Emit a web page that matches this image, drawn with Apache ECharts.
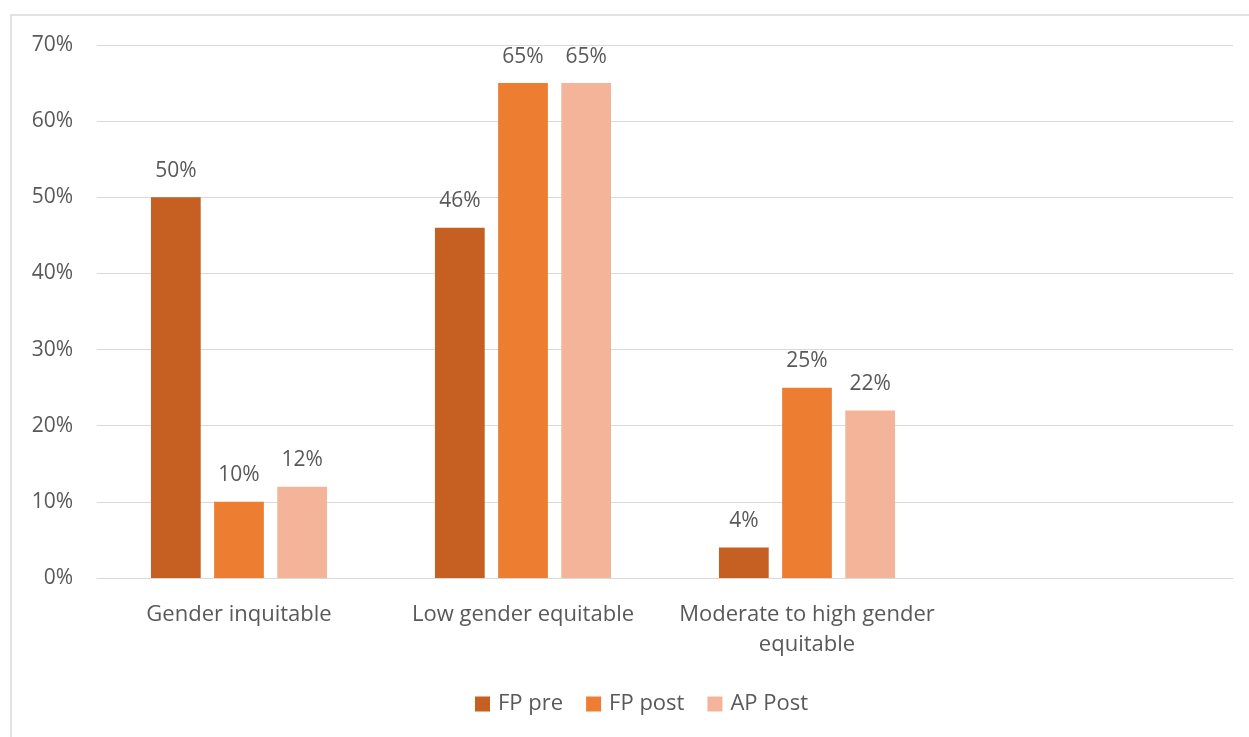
<!DOCTYPE html>
<html>
<head>
<meta charset="utf-8">
<title>Gender equity categories</title>
<script src="https://cdn.jsdelivr.net/npm/echarts@6/dist/echarts.min.js"></script>
<style>
  html, body { margin: 0; padding: 0; background: #ffffff; }
  #chart { width: 1249px; height: 737px; }
</style>
</head>
<body>
<div id="chart"></div>
<script>
// Categories (the last slot is left empty on the axis)
const categories = ['Gender inquitable', 'Low gender equitable', 'Moderate to high gender\nequitable', ''];
const seriesNames = ['FP pre', 'FP post', 'AP Post'];
// Percent values per group
const fpPre = [50, 46, 4, null];
const fpPost = [10, 65, 25, null];
const apPost = [12, 65, 22, null];
const yTicks = [0, 10, 20, 30, 40, 50, 60, 70];

const colors = ['#C55F22', '#ED7D31', '#F4B49A'];
const textColor = '#595959';
const fontFamily = '"Open Sans", "Noto Sans", sans-serif';
const fontSize = 22;

const chart = echarts.init(document.getElementById('chart'), null, { renderer: 'canvas' });

function barSeries(name, data, color) {
  return {
    name: name,
    type: 'bar',
    data: data,
    barGap: '27%',
    barCategoryGap: '38%',
    itemStyle: { color: color },
    label: {
      show: true,
      position: 'top',
      distance: 16,
      color: textColor,
      fontFamily: fontFamily,
      fontSize: fontSize - 1,
      formatter: p => (p.value == null ? '' : p.value + '%')
    }
  };
}

chart.setOption({
  animation: false,
  backgroundColor: '#ffffff',
  color: colors,
  textStyle: { fontFamily: fontFamily },
  graphic: [{
    type: 'rect',
    shape: { x: 11, y: 15, width: 1400, height: 900 },
    style: { fill: 'none', stroke: '#d9d9d9', lineWidth: 1.5 },
    silent: true
  }],
  grid: { left: 97, right: 16, top: 45, bottom: 159, containLabel: false },
  legend: {
    data: seriesNames,
    bottom: 17,
    left: 470,
    itemWidth: 15,
    itemHeight: 15,
    itemGap: 23,
    icon: 'rect',
    textStyle: { color: textColor, fontSize: fontSize, fontFamily: fontFamily, padding: [0, 0, 0, 3] }
  },
  xAxis: {
    type: 'category',
    data: categories,
    axisLine: { show: true, lineStyle: { color: '#d9d9d9', width: 1 } },
    axisTick: { show: false },
    axisLabel: {
      color: textColor,
      fontSize: fontSize,
      fontFamily: fontFamily,
      lineHeight: 30,
      margin: 22,
      interval: 0
    }
  },
  yAxis: {
    type: 'value',
    min: yTicks[0],
    max: yTicks[yTicks.length - 1],
    interval: 10,
    axisLine: { show: false },
    axisTick: { show: false },
    splitLine: { lineStyle: { color: '#d9d9d9', width: 1 } },
    axisLabel: {
      color: textColor,
      fontSize: fontSize - 1,
      fontFamily: fontFamily,
      margin: 24,
      formatter: v => v + '%'
    }
  },
  series: [
    barSeries(seriesNames[0], fpPre, colors[0]),
    barSeries(seriesNames[1], fpPost, colors[1]),
    barSeries(seriesNames[2], apPost, colors[2])
  ]
});
</script>
</body>
</html>
